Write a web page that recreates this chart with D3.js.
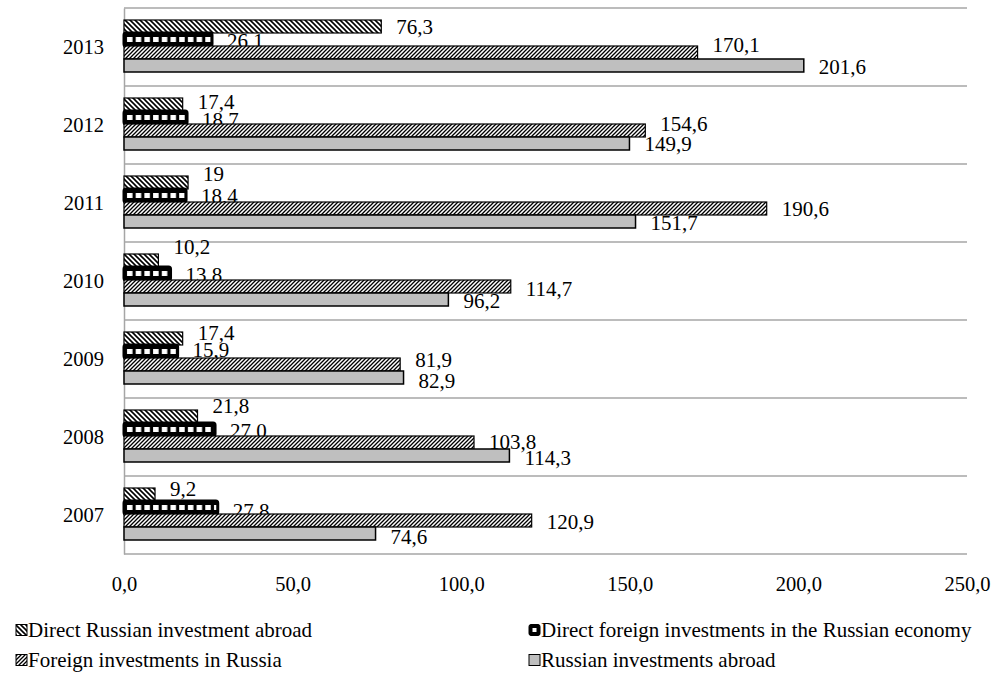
<!DOCTYPE html>
<html>
<head>
<meta charset="utf-8">
<script src="https://cdn.jsdelivr.net/npm/d3@7"></script>
<style>
  html, body { margin: 0; padding: 0; background: #fff; }
  svg { display: block; font-family: "Liberation Serif", "Times New Roman", serif; }
</style>
</head>
<body>
<svg id="chart" width="996" height="679"></svg>
<script>
// Investment flows, billion USD, as printed on the data labels
const years = [2007, 2008, 2009, 2010, 2011, 2012, 2013];
const directRussianAbroad   = ["9,2", "21,8", "17,4", "10,2", "19", "17,4", "76,3"];
const directForeignInRussia = ["27,8", "27,0", "15,9", "13,8", "18,4", "18,7", "26,1"];
const foreignInRussia       = ["120,9", "103,8", "81,9", "114,7", "190,6", "154,6", "170,1"];
const russianAbroad         = ["74,6", "114,3", "82,9", "96,2", "151,7", "149,9", "201,6"];
const seriesNames = [
  "Direct Russian investment abroad",
  "Direct foreign investments in the Russian economy",
  "Foreign investments in Russia",
  "Russian investments abroad"
];
const xTicks = [0, 50, 100, 150, 200, 250];

// vertical label nudges (px) per series, per year — keeps the labels where they were set
const labelNudge = [
  [-5.5, -10.5, -5.5, -13.5, -9, -2.5, 0.5],
  [3.5, 1.5, -1.5, 1.5, 0.5, 2.5, 1.5],
  [1, -1, -5, 2, 0, -7, -8],
  [3.5, 2.5, 3.5, 1.5, 1.5, 0.5, 1.5]
];

const num = s => +s.replace(",", ".");
const seriesLabels = [directRussianAbroad, directForeignInRussia, foreignInRussia, russianAbroad];
const series = seriesLabels.map((arr, i) => ({
  key: "s" + i,
  name: seriesNames[i],
  values: arr.map((t, j) => ({ year: years[j], value: num(t), text: t, nudge: labelNudge[i][j] }))
}));

const ru = d3.formatLocale({ decimal: ",", thousands: " ", grouping: [3], currency: ["", ""] });
const fmtTick = ru.format(".1f");

const svg = d3.select("#chart");
const defs = svg.append("defs");

const x = d3.scaleLinear().domain([0, 250]).range([124, 967]);
const y = d3.scaleBand().domain(years.slice().reverse()).range([8, 554]);
const ySub = d3.scaleBand().domain(series.map(s => s.key)).range([12, 64]);

// hatch: "\" stripes
const p0 = defs.append("pattern").attr("id", "hatchBack").attr("patternUnits", "userSpaceOnUse")
  .attr("width", 5).attr("height", 5);
p0.append("rect").attr("width", 5).attr("height", 5).attr("fill", "#fff");
p0.append("path").attr("d", "M-1,-1 L6,6 M-1,4 L1,6 M4,-1 L6,1").attr("stroke", "#000").attr("stroke-width", 1.6);

// black with a row of white squares, centred in each bar of the band
const band = y.bandwidth();
const sqH = 5;
const sqY = ySub("s1") + ySub.bandwidth() / 2 - sqH / 2;
const p1 = defs.append("pattern").attr("id", "dots").attr("patternUnits", "userSpaceOnUse")
  .attr("width", 8.7).attr("height", band).attr("x", x(0) + 1).attr("y", y.range()[0]);
p1.append("rect").attr("width", 8.7).attr("height", band).attr("fill", "#000");
p1.append("rect").attr("x", 2).attr("y", sqY).attr("width", 5.5).attr("height", sqH).attr("fill", "#fff");

// hatch: "/" stripes
const p2 = defs.append("pattern").attr("id", "hatchFwd").attr("patternUnits", "userSpaceOnUse")
  .attr("width", 4).attr("height", 4);
p2.append("rect").attr("width", 4).attr("height", 4).attr("fill", "#fff");
p2.append("path").attr("d", "M-1,5 L5,-1 M-1,1 L1,-1 M3,5 L5,3").attr("stroke", "#000").attr("stroke-width", 1.3);

const fills = ["url(#hatchBack)", "url(#dots)", "url(#hatchFwd)", "#bfbfbf"];
const strokeW = [1.2, 3, 1.2, 1.5];

// category gridlines
const gridYs = years.map(yr => y(yr)).concat([y.range()[1]]);
svg.append("g").selectAll("line").data(gridYs).join("line")
  .attr("x1", x(0)).attr("x2", x(250))
  .attr("y1", d => d).attr("y2", d => d)
  .attr("stroke", "#a6a6a6").attr("stroke-width", 1.5);

// value axis
const xAxis = svg.append("g").attr("transform", `translate(0,${y.range()[1]})`)
  .call(d3.axisBottom(x).tickValues(xTicks).tickFormat(fmtTick).tickSize(0).tickPadding(22));
xAxis.select(".domain").remove();
xAxis.selectAll("text").attr("font-size", 20.5).attr("font-family", "'Liberation Serif', serif").attr("fill", "#000");

// category axis
const yAxis = svg.append("g").attr("transform", `translate(${x(0)},0)`)
  .call(d3.axisLeft(y).tickSize(0).tickPadding(20));
yAxis.select(".domain").attr("stroke", "#a6a6a6").attr("stroke-width", 1.5);
yAxis.selectAll("text").attr("font-size", 20.5).attr("font-family", "'Liberation Serif', serif").attr("fill", "#000");

// bars and labels, series by series
series.forEach((s, i) => {
  const g = svg.append("g");
  g.selectAll("rect").data(s.values).join("rect")
    .attr("x", x(0))
    .attr("y", d => y(d.year) + ySub(s.key))
    .attr("width", d => x(d.value) - x(0))
    .attr("height", ySub.bandwidth())
    .attr("fill", fills[i])
    .attr("stroke", "#000")
    .attr("stroke-width", strokeW[i])
    .attr("stroke-linejoin", i === 1 ? "round" : "miter")
    .attr("rx", i === 1 ? 2 : 0);
  g.selectAll("text").data(s.values).join("text")
    .attr("x", d => x(d.value) + 15)
    .attr("y", d => y(d.year) + ySub(s.key) + ySub.bandwidth() / 2 + d.nudge)
    .attr("dy", "0.35em")
    .attr("font-size", 21)
    .attr("fill", "#000")
    .text(d => d.text);
});

// legend
const legendPos = [
  { x: 16, y: 630 }, { x: 529, y: 630 },
  { x: 16, y: 660 }, { x: 529, y: 660 }
];
const legend = svg.append("g").selectAll("g").data(series).join("g")
  .attr("transform", (d, i) => `translate(${legendPos[i].x},${legendPos[i].y})`);
legend.append("rect")
  .attr("x", 0).attr("y", -5.5).attr("width", 11).attr("height", 11)
  .attr("fill", (d, i) => i === 1 ? "#000" : fills[i])
  .attr("stroke", "#000").attr("stroke-width", 1)
  .attr("rx", (d, i) => i === 1 ? 2 : 0);
legend.filter((d, i) => i === 1).append("rect")
  .attr("x", 3.5).attr("y", -2).attr("width", 4).attr("height", 4).attr("fill", "#fff");
legend.append("text")
  .attr("x", 12).attr("y", 0).attr("dy", "0.35em")
  .attr("font-size", 21).attr("fill", "#000")
  .text(d => d.name);
</script>
</body>
</html>
